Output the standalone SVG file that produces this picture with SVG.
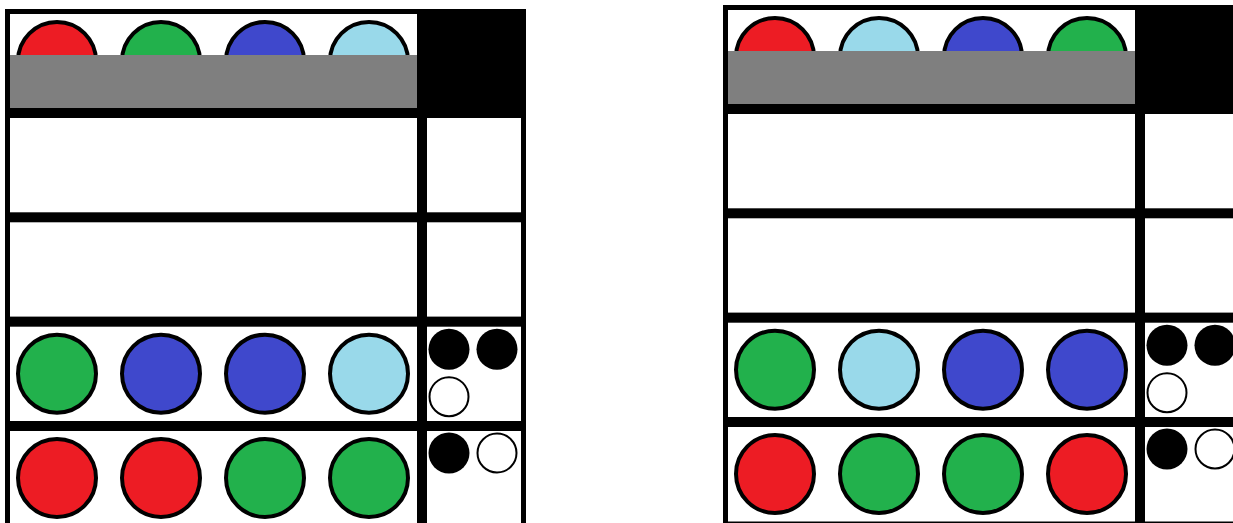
<svg xmlns="http://www.w3.org/2000/svg" xmlns:xlink="http://www.w3.org/1999/xlink" width="1233" height="523" viewBox="0 0 1233 523">
  <style>
    .peg { stroke: #000; stroke-width: 4; }
    .r { fill: #ED1C24; }
    .g { fill: #22B14C; }
    .b { fill: #3F48CC; }
    .c { fill: #99D9EA; }
    .kb { fill: #000; }
    .kw { fill: #fff; stroke: #000; stroke-width: 2; }
    .cell { fill: #fff; }
    .shield { fill: #7F7F7F; }
  </style>
  <defs>
    <g id="frame">
      <rect x="5" y="9" width="521" height="520" fill="#000"/>
      <rect class="cell" x="10" y="14" width="407" height="94"/>
      <rect class="cell" x="10" y="118" width="407" height="94.3"/>
      <rect class="cell" x="427" y="118" width="94" height="94.3"/>
      <rect class="cell" x="10" y="222.3" width="407" height="94.3"/>
      <rect class="cell" x="427" y="222.3" width="94" height="94.3"/>
      <rect class="cell" x="10" y="326.7" width="407" height="94.3"/>
      <rect class="cell" x="427" y="326.7" width="94" height="94.3"/>
      <rect class="cell" x="10" y="431" width="407" height="94.5"/>
      <rect class="cell" x="427" y="431" width="94" height="94.5"/>
    </g>
  </defs>
  <rect width="1233" height="523" fill="#fff"/>

  <g id="board-left">
    <use xlink:href="#frame"/>
    <g id="left-secret">
      <circle class="peg r" cx="57" cy="61" r="39"/>
      <circle class="peg g" cx="161" cy="61" r="39"/>
      <circle class="peg b" cx="265" cy="61" r="39"/>
      <circle class="peg c" cx="369" cy="61" r="39"/>
      <rect class="shield" x="10" y="55" width="407" height="53"/>
    </g>
    <g id="left-guess-1">
      <circle class="peg g" cx="57" cy="373.7" r="39"/>
      <circle class="peg b" cx="161" cy="373.7" r="39"/>
      <circle class="peg b" cx="265" cy="373.7" r="39"/>
      <circle class="peg c" cx="369" cy="373.7" r="39"/>
      <circle class="kb" cx="449" cy="349.3" r="20.5"/>
      <circle class="kb" cx="497" cy="349.3" r="20.5"/>
      <circle class="kw" cx="449" cy="396.7" r="19.5"/>
    </g>
    <g id="left-guess-2">
      <circle class="peg r" cx="57" cy="478" r="39"/>
      <circle class="peg r" cx="161" cy="478" r="39"/>
      <circle class="peg g" cx="265" cy="478" r="39"/>
      <circle class="peg g" cx="369" cy="478" r="39"/>
      <circle class="kb" cx="449" cy="453" r="20.5"/>
      <circle class="kw" cx="497" cy="453" r="19.5"/>
    </g>
  </g>

  <g id="board-right" transform="translate(718,-4)">
    <use xlink:href="#frame"/>
    <g id="right-secret">
      <circle class="peg r" cx="57" cy="61" r="39"/>
      <circle class="peg c" cx="161" cy="61" r="39"/>
      <circle class="peg b" cx="265" cy="61" r="39"/>
      <circle class="peg g" cx="369" cy="61" r="39"/>
      <rect class="shield" x="10" y="55" width="407" height="53"/>
    </g>
    <g id="right-guess-1">
      <circle class="peg g" cx="57" cy="373.7" r="39"/>
      <circle class="peg c" cx="161" cy="373.7" r="39"/>
      <circle class="peg b" cx="265" cy="373.7" r="39"/>
      <circle class="peg b" cx="369" cy="373.7" r="39"/>
      <circle class="kb" cx="449" cy="349.3" r="20.5"/>
      <circle class="kb" cx="497" cy="349.3" r="20.5"/>
      <circle class="kw" cx="449" cy="396.7" r="19.5"/>
    </g>
    <g id="right-guess-2">
      <circle class="peg r" cx="57" cy="478" r="39"/>
      <circle class="peg g" cx="161" cy="478" r="39"/>
      <circle class="peg g" cx="265" cy="478" r="39"/>
      <circle class="peg r" cx="369" cy="478" r="39"/>
      <circle class="kb" cx="449" cy="453" r="20.5"/>
      <circle class="kw" cx="497" cy="453" r="19.5"/>
    </g>
  </g>
</svg>
